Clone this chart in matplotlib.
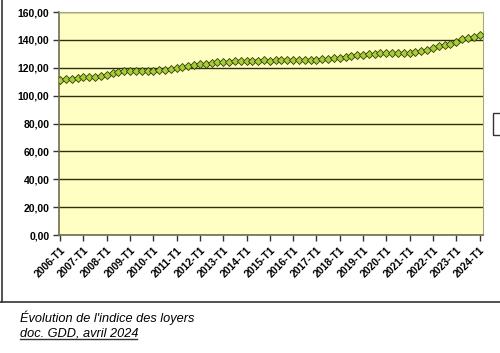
import matplotlib
matplotlib.use('Agg')
import matplotlib.pyplot as plt
from matplotlib.patches import Rectangle
from matplotlib.lines import Line2D
from matplotlib.ticker import FuncFormatter

plt.rcParams['font.family'] = ['Liberation Sans', 'DejaVu Sans']

years = list(range(2006, 2025))
# indice de reference des loyers, trimestriel, 2006-T1 -> 2024-T1
irl = [111.2, 111.7, 112.2, 112.6,
       113.1, 113.4, 113.7, 114.3,
       115.1, 116.1, 117.0, 117.5,
       117.7, 117.6, 117.4, 117.5,
       117.8, 118.3, 118.7, 119.2,
       119.7, 120.3, 121.0, 121.7,
       122.4, 123.0, 123.6, 124.0,
       124.3, 124.4, 124.7, 124.8,
       125.0, 125.2, 125.2, 125.3,
       125.2, 125.3, 125.3, 125.3,
       125.3, 125.3, 125.3, 125.5,
       125.9, 126.2, 126.5, 126.8,
       127.2, 127.8, 128.5, 129.0,
       129.4, 129.7, 130.0, 130.3,
       130.6, 130.6, 130.6, 130.5,
       130.7, 131.1, 131.7, 132.6,
       133.9, 135.8, 136.3, 137.3,
       138.6, 140.6, 141.0, 142.1,
       143.5]
tick_labels = [f'{y}-T1' for y in years]

fig = plt.figure(figsize=(5.0, 3.53), dpi=100)
ax = fig.add_axes([0.118, 0.334, 0.848, 0.632])
ax.set_facecolor('#FFFFC4')

x = list(range(len(irl)))
ax.plot(x, irl, color='#4D4D00', lw=1.2, marker='D', ms=4.2,
        mfc='#A3CF3A', mec='#3A3A00', mew=0.6, zorder=3)

ax.set_ylim(0, 160)
ax.set_yticks(range(0, 161, 20))
ax.yaxis.set_major_formatter(FuncFormatter(lambda v, p: f'{v:.2f}'.replace('.', ',')))
ax.set_xlim(-0.2, len(irl) - 0.4)
ax.set_xticks(range(0, len(irl), 4))
ax.set_xticklabels(tick_labels, rotation=45, ha='right', rotation_mode='anchor')

ax.grid(axis='y', color='#2E2E10', lw=1.0)
ax.set_axisbelow(True)
for side in ['top', 'right']:
    ax.spines[side].set_color('#A8A880')
for side in ['left', 'bottom']:
    ax.spines[side].set_color('#6E6E50')
    ax.spines[side].set_linewidth(1.2)
ax.tick_params(axis='both', length=4, width=1, color='#333333', labelsize=7.5)
ax.tick_params(axis='y', pad=3)
for lab in ax.get_xticklabels() + ax.get_yticklabels():
    lab.set_fontweight('bold')

# cadre et legende tronquee
fig.add_artist(Line2D([0.003, 0.003], [1.0, 0.145], color='#333333', lw=1.2))
fig.add_artist(Line2D([0.0, 1.0], [0.145, 0.145], color='#333333', lw=1.2))
fig.add_artist(Rectangle((0.986, 0.618), 0.03, 0.062, fill=False,
                         ec='#333333', lw=1.0))

fig.text(0.04, 0.087, "Évolution de l'indice des loyers", fontsize=9.2, style='italic')
fig.text(0.04, 0.047, 'doc. GDD, avril 2024', fontsize=9.2, style='italic')
fig.add_artist(Line2D([0.04, 0.274], [0.040, 0.040], color='#333333', lw=1.0))

fig.savefig('out.png', dpi=100)
